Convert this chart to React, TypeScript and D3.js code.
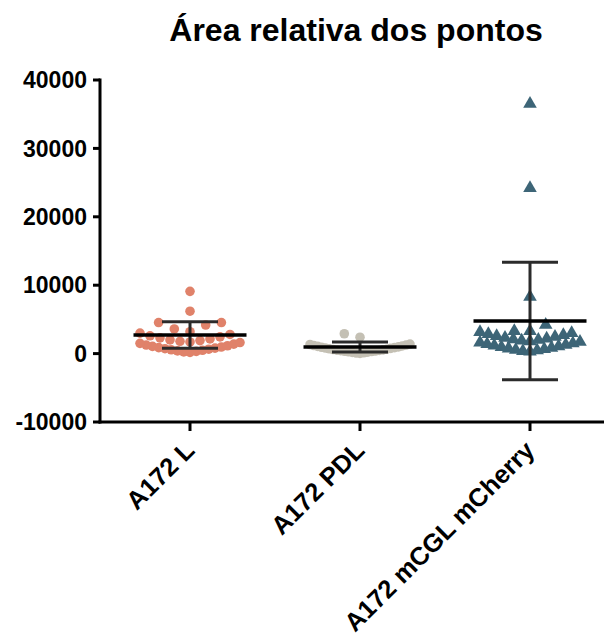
import React from 'react';
import * as d3 from 'd3';

const title = 'Área relativa dos pontos';
const categories = ['A172 L', 'A172 PDL', 'A172 mCGL mCherry'];
const valuesL = [180, 250, 330, 400, 480, 560, 640, 720, 800, 880, 960, 1050, 1150, 1250, 1380, 1500, 1620, 1700, 1800, 1900, 2000, 2150, 2300, 2450, 2600, 2800, 3000, 3200, 3600, 4180, 4540, 4540, 6200, 9100];
const valuesPDL = [40, 80, 120, 170, 220, 260, 300, 340, 380, 420, 460, 500, 540, 590, 640, 700, 760, 810, 870, 930, 990, 1050, 1120, 1180, 1250, 1330, 1400, 2400, 2900];
const valuesMC = [300, 380, 470, 560, 650, 750, 850, 950, 1050, 1160, 1270, 1380, 1500, 1620, 1730, 1800, 1900, 2000, 2100, 2200, 2320, 2440, 2560, 2700, 2850, 3000, 3150, 3300, 3300, 4200, 8300, 24200, 36500];
const means = [2720, 960, 4770];
const sds = [1950, 740, 8600];
const yTicks = [-10000, 0, 10000, 20000, 30000, 40000];
const colors = ['#E0826A', '#C4C0B4', '#3D6577'];
const shapes = ['circle', 'circle', 'triangle'];

const W = 610, H = 637;
const FONT = '"Liberation Sans", Arial, Helvetica, sans-serif';
const axisX = 100, axisY = 422;

const y = d3.scaleLinear().domain([-10000, 40000]).range([422, 80]);
const x = d3.scalePoint<string>().domain(categories).range([190, 530]);

function swarm(values: number[]) {
  const binPx = 10, spacing = 15.7, maxHalf = 50;
  const y0 = y(d3.min(values)!);
  const items = values.map((v, i) => ({ v, i }));
  const groups = d3.group(items, d => Math.floor((y0 - y(d.v)) / binPx));
  const dx = values.map(() => 0);
  for (const [, pts] of groups) {
    pts.sort((a, b) => a.v - b.v);
    const steps = Math.ceil((pts.length - 1) / 2);
    const sp = steps > 0 ? Math.min(spacing, maxHalf / steps) : 0;
    pts.forEach((p, j) => {
      const step = Math.ceil(j / 2);
      const side = j % 2 === 1 ? -1 : 1;
      dx[p.i] = j === 0 ? 0 : side * step * sp;
    });
  }
  return dx;
}

const allValues = [valuesL, valuesPDL, valuesMC];
const tri = d3.symbol().type(d3.symbolTriangle).size(80)() as string;

export default function App() {
  return (
    <svg width={W} height={H} style={{ position: 'absolute', left: 0, top: 0, background: '#fff' }} fontFamily={FONT}>
      <text x={356} y={41} textAnchor="middle" fontSize={32} fontWeight="bold" fill="#000">{title}</text>

      {allValues.map((vals, gi) => {
        const cx = x(categories[gi])!;
        const dx = swarm(vals);
        return (
          <g key={gi}>
            {vals.map((v, i) =>
              shapes[gi] === 'circle' ? (
                <circle key={i} cx={cx + dx[i]} cy={y(v)} r={4.8} fill={colors[gi]} />
              ) : (
                <path key={i} d={tri} transform={`translate(${cx + dx[i]},${y(v)})`} fill={colors[gi]} />
              )
            )}
          </g>
        );
      })}

      {categories.map((c, gi) => {
        const cx = x(c)!;
        const m = means[gi], s = sds[gi];
        return (
          <g key={'e' + gi}>
            <line x1={cx} x2={cx} y1={y(m + s)} y2={y(m - s)} stroke="#2b2b2b" strokeWidth={3} />
            <line x1={cx - 28} x2={cx + 28} y1={y(m + s)} y2={y(m + s)} stroke="#2b2b2b" strokeWidth={3} />
            <line x1={cx - 28} x2={cx + 28} y1={y(m - s)} y2={y(m - s)} stroke="#2b2b2b" strokeWidth={3} />
            <line x1={cx - 56.5} x2={cx + 56.5} y1={y(m)} y2={y(m)} stroke="#000" strokeWidth={3.5} />
          </g>
        );
      })}

      {/* y axis */}
      <line x1={axisX} x2={axisX} y1={y(40000) - 1.5} y2={axisY + 1.5} stroke="#000" strokeWidth={3} />
      {yTicks.map(t => (
        <g key={t}>
          <line x1={axisX - 7} x2={axisX} y1={y(t)} y2={y(t)} stroke="#000" strokeWidth={3} />
          <text x={87} y={y(t)} dy="0.36em" textAnchor="end" fontSize={23} fontWeight="bold" fill="#000">{t}</text>
        </g>
      ))}

      {/* x axis */}
      <line x1={axisX - 1.5} x2={604} y1={axisY} y2={axisY} stroke="#000" strokeWidth={3} />
      {categories.map(c => {
        const cx = x(c)!;
        return (
          <g key={c}>
            <line x1={cx} x2={cx} y1={axisY} y2={axisY + 9} stroke="#000" strokeWidth={3} />
            <text transform={`translate(${cx + 6},${axisY + 30}) rotate(-45)`} textAnchor="end" fontSize={25.5} fontWeight="bold" fill="#000">{c}</text>
          </g>
        );
      })}
    </svg>
  );
}
